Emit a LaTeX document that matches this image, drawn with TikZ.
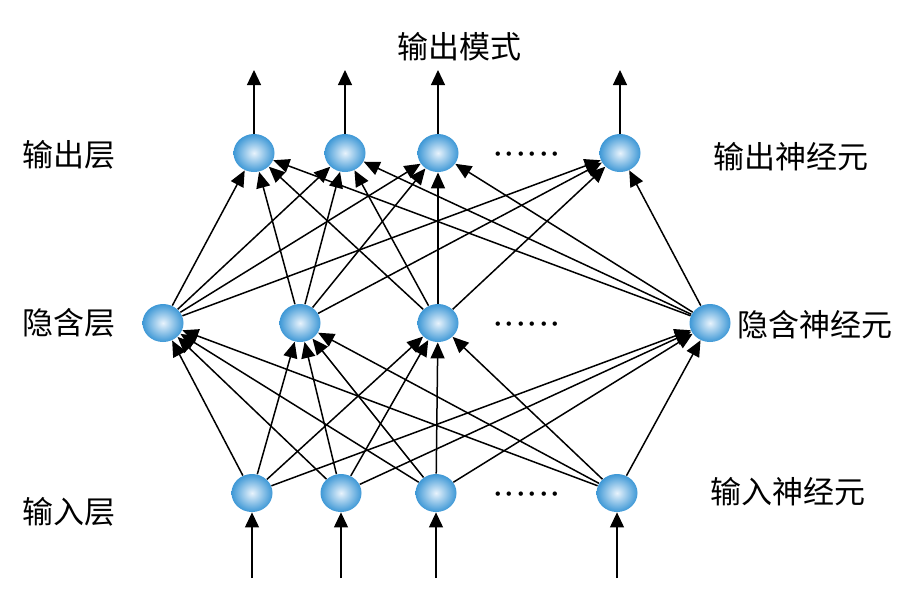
\documentclass[tikz,border=0pt]{standalone}
\usepackage{fontspec}
\newfontfamily\cjk{Noto Sans CJK SC}
\usetikzlibrary{arrows.meta,shapes.geometric}

\definecolor{ballrim}{RGB}{62,152,214}
\definecolor{ballcenter}{RGB}{232,243,252}

\newcommand{\sixdots}{${\cdot}{\cdot}{\cdot}{\cdot}{\cdot}{\cdot}$}

\tikzset{
  neuron/.style={ellipse,minimum width=20.5pt,minimum height=19pt,inner sep=0pt,
    shading=radial,inner color=ballcenter,outer color=ballrim},
  link/.style={-{Triangle[length=8pt,width=7pt]},line width=0.75pt},
  iolink/.style={-{Triangle[length=7.5pt,width=7pt]},line width=0.6pt},
  layertext/.style={font=\cjk\fontsize{15.5}{18}\selectfont,inner sep=0pt},
  dots/.style={font=\fontsize{20}{22}\selectfont,inner sep=0pt}
}

\begin{document}
\begin{tikzpicture}[x=0.5pt,y=-0.5pt]

      \useasboundingbox (0,0) rectangle (911,596);

      \begin{scope}[every node/.style={neuron}]
        \node (o1) at (254,153) {};
        \node (o2) at (345,153) {};
        \node (o3) at (438,153) {};
        \node (o4) at (620,153) {};
        \node (h1) at (163,323) {};
        \node (h2) at (300,323) {};
        \node (h3) at (438,323) {};
        \node (h4) at (710,323) {};
        \node (i1) at (252,493) {};
        \node (i2) at (341,493) {};
        \node (i3) at (436,493) {};
        \node (i4) at (617,493) {};
      \end{scope}

      \begin{scope}[every node/.style={dots}]
        \node (odots) at (527,155) {\sixdots};
        \node (hdots) at (527,325) {\sixdots};
        \node (idots) at (527,495) {\sixdots};
      \end{scope}

      \begin{scope}[every node/.style={layertext}]
        \node (title) at (459,47) {输出模式};
        \node[anchor=west] (olayer) at (22,155) {输出层};
        \node[anchor=west] (hlayer) at (22,323) {隐含层};
        \node[anchor=west] (ilayer) at (22,512) {输入层};
        \node[anchor=west] (oname) at (713,157) {输出神经元};
        \node[anchor=west] (hname) at (737,325) {隐含神经元};
        \node[anchor=west] (iname) at (710,492) {输入神经元};
      \end{scope}

      % inputs and outputs
      \coordinate (i1in) at (252,578);
      \coordinate (i2in) at (341,578);
      \coordinate (i3in) at (436,578);
      \coordinate (i4in) at (617,578);
      \coordinate (o1out) at (254,70);
      \coordinate (o2out) at (345,70);
      \coordinate (o3out) at (438,70);
      \coordinate (o4out) at (620,70);

      \begin{scope}[every edge/.style={draw,iolink}]
        \path (i1in) edge (i1);
        \path (i2in) edge (i2);
        \path (i3in) edge (i3);
        \path (i4in) edge (i4);
        \path (o1) edge (o1out);
        \path (o2) edge (o2out);
        \path (o3) edge (o3out);
        \path (o4) edge (o4out);
      \end{scope}

      \begin{scope}[every edge/.style={draw,link}]
        \path (i1) edge (h1) edge (h2) edge (h3) edge (h4);
        \path (i2) edge (h1) edge (h2) edge (h3) edge (h4);
        \path (i3) edge (h1) edge (h2) edge (h3) edge (h4);
        \path (i4) edge (h1) edge (h2) edge (h3) edge (h4);
        \path (h1) edge (o1) edge (o2) edge (o3) edge (o4);
        \path (h2) edge (o1) edge (o2) edge (o3) edge (o4);
        \path (h3) edge (o1) edge (o2) edge (o3) edge (o4);
        \path (h4) edge (o1) edge (o2) edge (o3) edge (o4);
      \end{scope}

    \end{tikzpicture}
\end{document}
